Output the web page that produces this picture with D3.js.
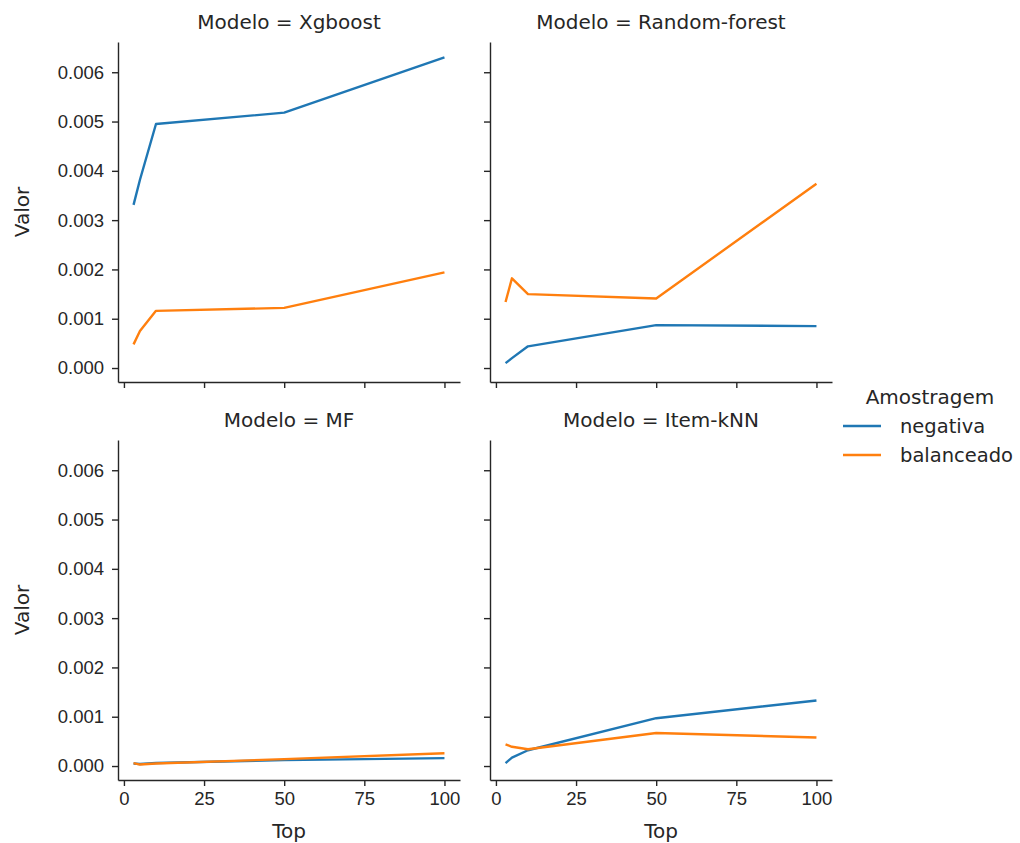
<!DOCTYPE html>
<html>
<head>
<meta charset="utf-8">
<script src="https://cdn.jsdelivr.net/npm/d3@7"></script>
<style>
  body { margin: 0; background: #fff; }
  svg { font-family: "DejaVu Sans", sans-serif; }
  .axis path, .axis line { stroke: #262626; stroke-width: 1.4px; }
  .axis text { fill: #262626; font-size: 18.5px; }
</style>
</head>
<body>
<div id="chart-area"></div>
<script>

// data
var tops = [3, 5, 10, 50, 100]
var modelos = ["Xgboost", "Random-forest", "MF", "Item-kNN"]
var amostragens = ["negativa", "balanceado"]
var cores = ["#1f77b4", "#ff7f0e"]

var xgboostNegativa = [0.00331, 0.00382, 0.00495, 0.00518, 0.0063]
var xgboostBalanceado = [0.00048, 0.00075, 0.00116, 0.00122, 0.00194]
var rfNegativa = [0.0001, 0.0002, 0.00044, 0.00087, 0.00085]
var rfBalanceado = [0.00134, 0.00182, 0.0015, 0.00141, 0.00374]
var mfNegativa = [0.00005, 0.00004, 0.00006, 0.00012, 0.00016]
var mfBalanceado = [0.00006, 0.00003, 0.00005, 0.00014, 0.00026]
var knnNegativa = [0.00006, 0.00017, 0.00032, 0.00097, 0.00133]
var knnBalanceado = [0.00044, 0.00039, 0.00034, 0.00067, 0.00058]

var xTicks = [0, 25, 50, 75, 100]
var yTicks = [0, 0.001, 0.002, 0.003, 0.004, 0.005, 0.006]

var series = [
  [xgboostNegativa, xgboostBalanceado],
  [rfNegativa, rfBalanceado],
  [mfNegativa, mfBalanceado],
  [knnNegativa, knnBalanceado]
]

// layout
var panelWidth = 342,
    panelHeight = 340
var colX = [118, 490]
var rowY = [42, 440]

var svg = d3.select("#chart-area").append("svg")
    .attr("width", 1020)
    .attr("height", 843)

var allValues = d3.merge(series.map(function(s) { return d3.merge(s) }))
var yMin = d3.min(allValues), yMax = d3.max(allValues)
var yPad = (yMax - yMin) * 0.05
var xPad = (d3.max(tops) - d3.min(tops)) * 0.05

var x = d3.scaleLinear()
    .domain([d3.min(tops) - xPad, d3.max(tops) + xPad])
    .range([0, panelWidth])

var y = d3.scaleLinear()
    .domain([yMin - yPad, yMax + yPad])
    .range([panelHeight, 0])

var line = d3.line()
    .x(function(d) { return x(d.top) })
    .y(function(d) { return y(d.valor) })

modelos.forEach(function(modelo, i) {
  var col = i % 2, row = Math.floor(i / 2)

  var g = svg.append("g")
      .attr("transform", "translate(" + colX[col] + "," + rowY[row] + ")")

  var xAxisCall = d3.axisBottom(x)
      .tickValues(xTicks)
      .tickSize(6)
      .tickSizeOuter(0)
      .tickPadding(6)
  var xAxis = g.append("g")
      .attr("class", "x axis")
      .attr("transform", "translate(0," + panelHeight + ")")
      .call(xAxisCall)
  if (row == 0) xAxis.selectAll("text").remove()

  var yAxisCall = d3.axisLeft(y)
      .tickValues(yTicks)
      .tickFormat(d3.format(".3f"))
      .tickSize(6)
      .tickSizeOuter(0)
      .tickPadding(8)
  var yAxis = g.append("g")
      .attr("class", "y axis")
      .call(yAxisCall)
  if (col == 1) yAxis.selectAll("text").remove()

  series[i].forEach(function(valores, j) {
    var pontos = tops.map(function(t, k) { return { top: t, valor: valores[k] } })
    g.append("path")
      .datum(pontos)
      .attr("fill", "none")
      .attr("stroke", cores[j])
      .attr("stroke-width", 2.4)
      .attr("stroke-linejoin", "round")
      .attr("d", line)
  })

  g.append("text")
    .attr("x", panelWidth / 2)
    .attr("y", -13)
    .attr("text-anchor", "middle")
    .attr("font-size", "20px")
    .attr("fill", "#262626")
    .text("Modelo = " + modelo)

  if (row == 1) {
    g.append("text")
      .attr("x", panelWidth / 2)
      .attr("y", panelHeight + 58)
      .attr("text-anchor", "middle")
      .attr("font-size", "20px")
      .attr("fill", "#262626")
      .text("Top")
  }

  if (col == 0) {
    g.append("text")
      .attr("transform", "rotate(-90)")
      .attr("x", -panelHeight / 2)
      .attr("y", -89)
      .attr("text-anchor", "middle")
      .attr("font-size", "20px")
      .attr("fill", "#262626")
      .text("Valor")
  }
})

// legend
var legend = svg.append("g")
    .attr("transform", "translate(843, 0)")

legend.append("text")
  .attr("x", 87)
  .attr("y", 404)
  .attr("text-anchor", "middle")
  .attr("font-size", "20px")
  .attr("fill", "#262626")
  .text("Amostragem")

amostragens.forEach(function(a, j) {
  var ly = 426 + j * 29
  legend.append("line")
    .attr("x1", 0)
    .attr("x2", 38)
    .attr("y1", ly)
    .attr("y2", ly)
    .attr("stroke", cores[j])
    .attr("stroke-width", 2.4)
  legend.append("text")
    .attr("x", 57)
    .attr("y", ly + 7)
    .attr("font-size", "19.5px")
    .attr("fill", "#262626")
    .text(a)
})

</script>
</body>
</html>
